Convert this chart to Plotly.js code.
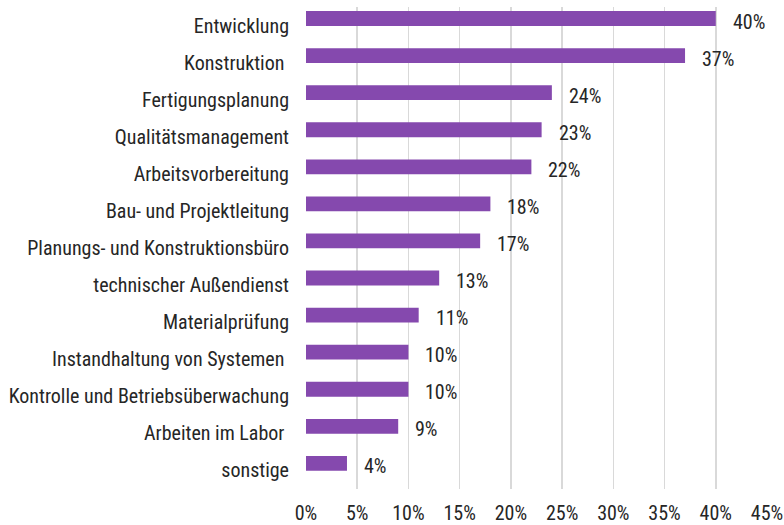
<!DOCTYPE html>
<html><head><meta charset="utf-8">
<script src="https://cdn.plot.ly/plotly-3.0.1.min.js"></script>
<style>html,body{margin:0;padding:0;background:#fff}</style>
</head><body>
<div id="chart" style="width:784px;height:525px"></div>
<script>
const categories = ["Entwicklung","Konstruktion\u00a0","Fertigungsplanung","Qualitätsmanagement","Arbeitsvorbereitung","Bau- und Projektleitung","Planungs- und Konstruktionsbüro","technischer Außendienst","Materialprüfung","Instandhaltung von Systemen\u00a0","Kontrolle und Betriebsüberwachung","Arbeiten im Labor\u00a0","sonstige"];
const values = [40,37,24,23,22,18,17,13,11,10,10,9,4];
const xTicks = [0,5,10,15,20,25,30,35,40,45];
const xTickLabels = ["0%","5%","10%","15%","20%","25%","30%","35%","40%","45%"];

const FONT = '"Roboto Condensed","Liberation Sans Narrow","Arial Narrow","DejaVu Sans Condensed",sans-serif';
const TXT = '#262626';
const W = 400;

const trace = {
  type: 'bar', orientation: 'h',
  x: values, y: categories,
  width: 0.4, offset: -0.39,
  marker: {color: '#8549AE'},
  hoverinfo: 'none'
};
const annotations = values.map((v, i) => ({
  x: v, y: categories[i], xref: 'x', yref: 'y',
  text: v + '%', showarrow: false, xanchor: 'left', yanchor: 'middle',
  xshift: 15, yshift: 4,
  font: {family: FONT, size: 20, color: TXT, weight: W}
}));
const layout = {
  width: 784, height: 525,
  margin: {l: 306, r: 17, t: 7, b: 36, pad: 0},
  paper_bgcolor: '#fff', plot_bgcolor: '#fff',
  showlegend: false,
  font: {family: FONT, size: 20, color: TXT, weight: W},
  xaxis: {
    range: [0, 45], tickvals: xTicks, ticktext: xTickLabels,
    showgrid: true, gridcolor: '#d9d9d9', gridwidth: 1.5,
    zeroline: false, showline: false, ticks: '',
    ticklabelstandoff: 10,
    tickfont: {family: FONT, size: 20, color: TXT, weight: W}
  },
  yaxis: {
    type: 'category', autorange: 'reversed',
    showgrid: false, zeroline: false, showline: false, ticks: '',
    ticklabelstandoff: 16,
    tickfont: {family: FONT, size: 20, color: TXT, weight: W}
  },
  annotations: annotations
};
Plotly.newPlot('chart', [trace], layout, {staticPlot: true, displayModeBar: false});
</script>
</body></html>
